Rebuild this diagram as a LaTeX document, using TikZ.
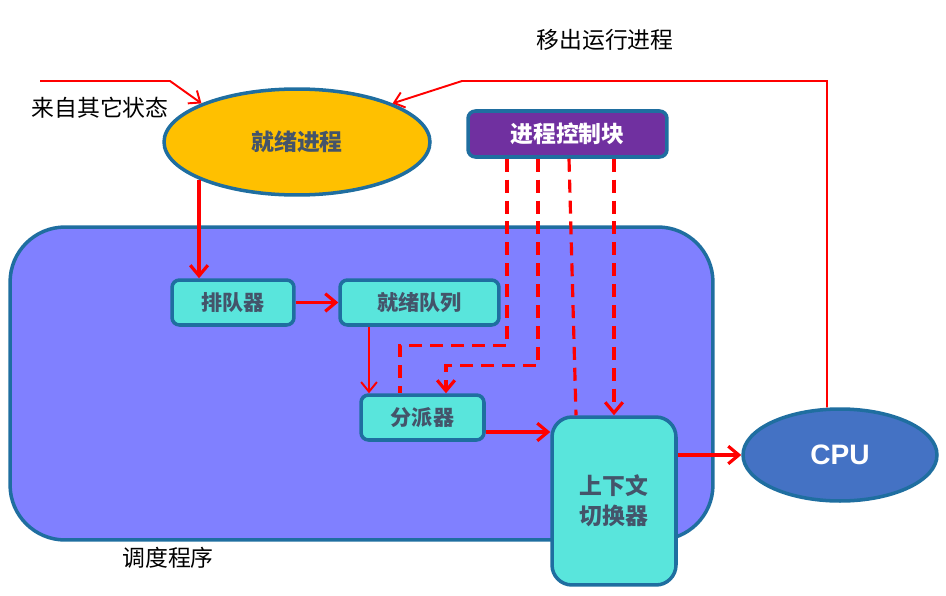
\documentclass[tikz,border=0pt]{standalone}
\usepackage{fontspec}
\setmainfont{Noto Sans CJK SC}
\newfontfamily\latinsans{Liberation Sans}
\usetikzlibrary{shapes.geometric,arrows.meta}

\definecolor{edgeblue}{RGB}{31,110,160}
\definecolor{schedfill}{RGB}{128,128,255}
\definecolor{boxcyan}{RGB}{89,229,220}
\definecolor{readyyellow}{RGB}{255,192,0}
\definecolor{pcbpurple}{RGB}{112,48,160}
\definecolor{cpublue}{RGB}{68,114,196}
\definecolor{labelgray}{RGB}{68,84,106}

\tikzset{
    unit/.style={draw=edgeblue, line width=2pt, fill=boxcyan, rounded corners=0.15cm,
        minimum height=0.9cm, text=labelgray, font=\bfseries\fontsize{12}{14}\selectfont},
    oval/.style={ellipse, draw=edgeblue, line width=2pt, inner sep=0pt},
    flow/.style={red, line width=1.8pt, -{Straight Barb[length=6pt,width=10pt]}},
    thinflow/.style={red, line width=1.1pt, -{Straight Barb[length=5.5pt,width=9pt]}},
    pcbline/.style={red, line width=1.8pt, dash pattern=on 7.4pt off 4.5pt},
    caption/.style={font=\fontsize{13}{15}\selectfont}
}

\begin{document}
\begin{tikzpicture}[x=0.02cm, y=-0.02cm]
    \useasboundingbox (0,0) rectangle (946,595);
    \node[draw=edgeblue, line width=2pt, fill=schedfill, rounded corners=1.1cm,
        minimum width=14.06cm, minimum height=6.26cm] (sched) at (361.5,383.5) {};
    \node[caption] (schedlabel) at (168,558) {调度程序};
    \node[oval, fill=readyyellow, minimum width=5.32cm, minimum height=2.12cm,
        text=labelgray, font=\bfseries\fontsize{13}{15}\selectfont] (ready) at (297,142) {就绪进程};
    \node[unit, fill=pcbpurple, text=white, minimum width=3.98cm, minimum height=0.92cm,
        font=\bfseries\fontsize{13}{15}\selectfont] (pcb) at (567.5,134) {进程控制块};
    \node[unit, minimum width=2.44cm] (enq) at (233,302.5) {排队器};
    \node[unit, minimum width=3.18cm] (rq) at (419.5,302.5) {就绪队列};
    \node[unit, minimum width=2.46cm] (disp) at (422.5,417.5) {分派器};
    \node[unit, minimum width=2.48cm, minimum height=3.36cm, rounded corners=0.4cm,
        align=center, font=\bfseries\fontsize{13}{17}\selectfont] (ctx) at (614,501) {上下文\\切换器};
    \node[oval, fill=cpublue, minimum width=3.88cm, minimum height=1.84cm,
        text=white, font=\latinsans\bfseries\fontsize{16}{18}\selectfont] (cpu) at (840,455) {CPU};
    \node[caption] (otherstates) at (100,108) {来自其它状态};
    \node[caption] (moveout) at (605,40) {移出运行进程};
    \coordinate (fromother) at (40,81);

    \draw[thinflow] (fromother) -- (170,81) -- (ready.158);
    \draw[thinflow] ([xshift=-0.26cm]cpu.north) |- (462,81) -- (ready.22);
    \draw[flow] (ready.201) -- (ready.201 |- enq.north);
    \draw[flow] (enq) -- (rq);
    \draw[thinflow] ([xshift=-1.01cm]rq.south) -- ([xshift=-1.01cm]rq.south |- disp.north);
    \draw[flow] ([yshift=-0.29cm]disp.east) -- ([yshift=-0.29cm]disp.east -| ctx.west);
    \draw[flow] (cpu.west -| ctx.east) -- (cpu.west);
    \draw[pcbline] ([xshift=-1.21cm]pcb.south) -- ++(0,187) -| ([xshift=-0.45cm]disp.north);
    \draw[pcbline, -{Straight Barb[length=6pt,width=10pt]}] ([xshift=-0.59cm]pcb.south) -- ++(0,207) -| ([xshift=0.47cm]disp.north);
    \draw[pcbline] ([xshift=0.03cm]pcb.south) -- ([xshift=-0.76cm]ctx.north);
    \draw[pcbline, -{Straight Barb[length=6pt,width=10pt]}] (pcb.south -| ctx.north) -- (ctx.north);
\end{tikzpicture}
\end{document}
